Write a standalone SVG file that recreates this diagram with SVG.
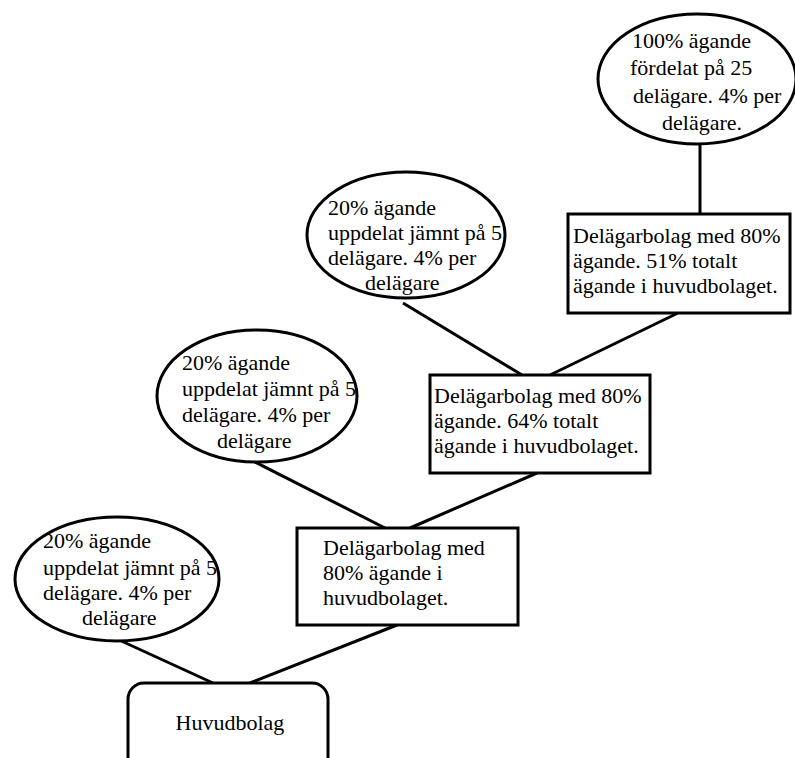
<svg xmlns="http://www.w3.org/2000/svg" width="795" height="758" viewBox="0 0 795 758">
<style>
.s{fill:#fff;stroke:#000;stroke-width:3}
.c{fill:none;stroke:#000;stroke-width:3}
text{font-family:"Liberation Serif","Times New Roman",serif;font-size:22px;fill:#000}
</style>
<rect width="795" height="758" fill="#fff"/>
<g id="connectors">
<line class="c" x1="700" y1="143" x2="700" y2="214"/>
<line class="c" x1="403" y1="303" x2="522" y2="375"/>
<line class="c" x1="678" y1="313" x2="550" y2="375"/>
<line class="c" x1="253" y1="461" x2="385" y2="528"/>
<line class="c" x1="537" y1="473" x2="410" y2="528"/>
<line class="c" x1="117" y1="639" x2="213" y2="683"/>
<line class="c" x1="397" y1="625" x2="250" y2="683"/>
</g>
<g id="owners25">
<ellipse class="s" cx="697" cy="79" rx="99" ry="65"/>
<text x="632" y="48">100% ägande</text>
<text x="630" y="75">fördelat på 25</text>
<text x="633" y="103">delägare. 4% per</text>
<text x="662" y="130">delägare.</text>
</g>
<g id="sub3">
<rect class="s" x="568" y="214" width="222" height="99"/>
<text x="573" y="243">Delägarbolag med 80%</text>
<text x="573" y="268">ägande. 51% totalt</text>
<text x="573" y="293">ägande i huvudbolaget.</text>
</g>
<g id="owners3">
<ellipse class="s" cx="406" cy="235" rx="99" ry="63"/>
<text x="328" y="215">20% ägande</text>
<text x="328" y="240">uppdelat jämnt på 5</text>
<text x="328" y="265">delägare. 4% per</text>
<text x="365" y="290">delägare</text>
</g>
<g id="sub2">
<rect class="s" x="430" y="375" width="220" height="98"/>
<text x="434" y="403">Delägarbolag med 80%</text>
<text x="434" y="428">ägande. 64% totalt</text>
<text x="434" y="453">ägande i huvudbolaget.</text>
</g>
<g id="owners2">
<ellipse class="s" cx="257" cy="396" rx="100" ry="66"/>
<text x="182" y="370">20% ägande</text>
<text x="182" y="396">uppdelat jämnt på 5</text>
<text x="182" y="422">delägare. 4% per</text>
<text x="217" y="448">delägare</text>
</g>
<g id="sub1">
<rect class="s" x="297" y="528" width="221" height="97"/>
<text x="323" y="555">Delägarbolag med</text>
<text x="323" y="580">80% ägande i</text>
<text x="323" y="605">huvudbolaget.</text>
</g>
<g id="owners1">
<ellipse class="s" cx="117" cy="579" rx="102" ry="62"/>
<text x="43" y="548">20% ägande</text>
<text x="43" y="575">uppdelat jämnt på 5</text>
<text x="43" y="600">delägare. 4% per</text>
<text x="82" y="625">delägare</text>
</g>
<g id="huvudbolag">
<rect class="s" x="128" y="683" width="200" height="95" rx="16" ry="16"/>
<text x="230" y="730" text-anchor="middle">Huvudbolag</text>
</g>
</svg>
